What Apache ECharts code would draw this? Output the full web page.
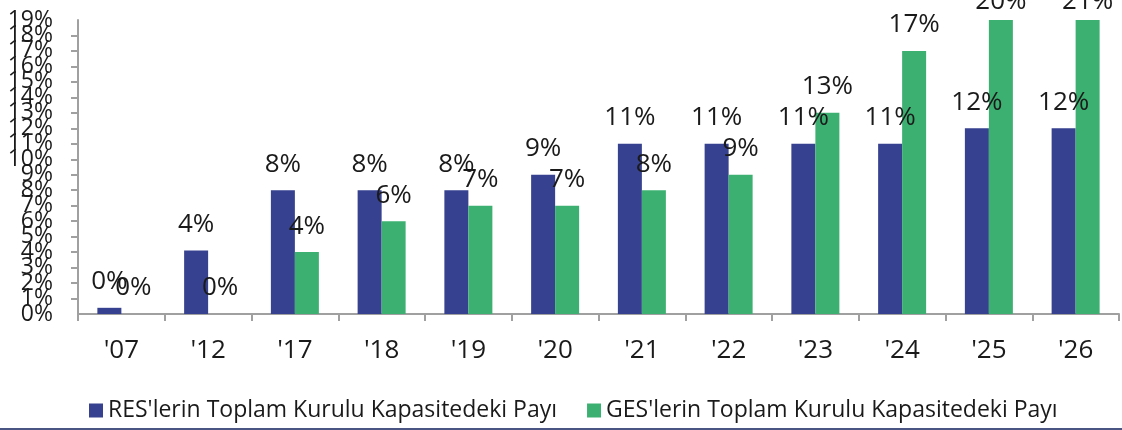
<!DOCTYPE html>
<html>
<head>
<meta charset="utf-8">
<script src="https://cdn.jsdelivr.net/npm/echarts@6/dist/echarts.min.js"></script>
<style>
  html, body { margin: 0; padding: 0; background: #fff; }
  #chart { width: 1122px; height: 430px; }
</style>
</head>
<body>
<div id="chart"></div>
<script>
  // kategoriler ve seriler
  var years = ["'07", "'12", "'17", "'18", "'19", "'20", "'21", "'22", "'23", "'24", "'25", "'26"];
  var resShare = [0.4, 4.1, 8, 8, 8, 9, 11, 11, 11, 11, 12, 12];
  var gesShare = [0, 0, 4, 6, 7, 7, 8, 9, 13, 17, 20, 21];
  var seriesNames = ["RES'lerin Toplam Kurulu Kapasitedeki Payı", "GES'lerin Toplam Kurulu Kapasitedeki Payı"];
  var yMax = 19;

  var font = 'Open Sans';

  // eksenin üstüne taşan değerlerin etiketi biraz aşağı
  function toData(arr) {
    return arr.map(function (v) {
      if (v > yMax) {
        return { value: v, label: { offset: [0, 8] } };
      }
      return v;
    });
  }

  var myChart = echarts.init(document.getElementById('chart'));

  var labelStyle = {
    show: true,
    position: 'top',
    distance: 13,
    color: '#1a1a1a',
    fontFamily: font,
    fontSize: 26,
    formatter: function (p) { return Math.round(p.value) + '%'; }
  };

  var yLabel = {
    color: '#1a1a1a',
    fontSize: 23,
    fontFamily: font,
    margin: 25,
    formatter: '{value}%'
  };

  var option = {
    animation: false,
    textStyle: { fontFamily: font },
    grid: { left: 78, right: 3, top: 20, bottom: 116 },
    legend: {
      bottom: 3,
      left: 84,
      itemWidth: 14,
      itemHeight: 14,
      itemGap: 30,
      icon: 'rect',
      textStyle: { fontFamily: font, fontSize: 23, color: '#1a1a1a' },
      data: seriesNames
    },
    xAxis: {
      type: 'category',
      data: years,
      axisLine: { lineStyle: { color: '#a0a0a0', width: 2 } },
      axisTick: { show: true, length: 7, lineStyle: { color: '#a0a0a0', width: 2 } },
      axisLabel: { color: '#1a1a1a', fontSize: 26, fontFamily: font, margin: 24 }
    },
    yAxis: [
      {
        // ara etiketler (uç değerler ayrı eksende, yoksa komşular gizleniyor)
        type: 'value',
        min: 0,
        max: yMax,
        interval: 1,
        axisLine: { show: true, lineStyle: { color: '#a0a0a0', width: 2 } },
        axisTick: { show: true, length: 7, lineStyle: { color: '#a0a0a0', width: 2 } },
        splitLine: { show: false },
        axisLabel: Object.assign({ showMinLabel: false, showMaxLabel: false }, yLabel)
      },
      {
        // sadece 0% ve 19%
        type: 'value',
        position: 'left',
        min: 0,
        max: yMax,
        interval: yMax,
        axisLine: { show: false },
        axisTick: { show: false },
        splitLine: { show: false },
        axisLabel: yLabel
      }
    ],
    series: [
      {
        name: seriesNames[0],
        type: 'bar',
        barWidth: 24,
        barGap: '0%',
        clip: true,
        data: toData(resShare),
        itemStyle: { color: '#36418f' },
        label: labelStyle
      },
      {
        name: seriesNames[1],
        type: 'bar',
        barWidth: 24,
        barGap: '0%',
        clip: true,
        data: toData(gesShare),
        itemStyle: { color: '#3cb071' },
        label: labelStyle
      }
    ],
    graphic: [
      {
        type: 'rect',
        left: 0,
        bottom: 0,
        shape: { width: 1122, height: 2 },
        style: { fill: '#4b5584' }
      }
    ]
  };

  myChart.setOption(option);

  window.addEventListener('resize', function () {
    myChart.resize();
  });
</script>
</body>
</html>
